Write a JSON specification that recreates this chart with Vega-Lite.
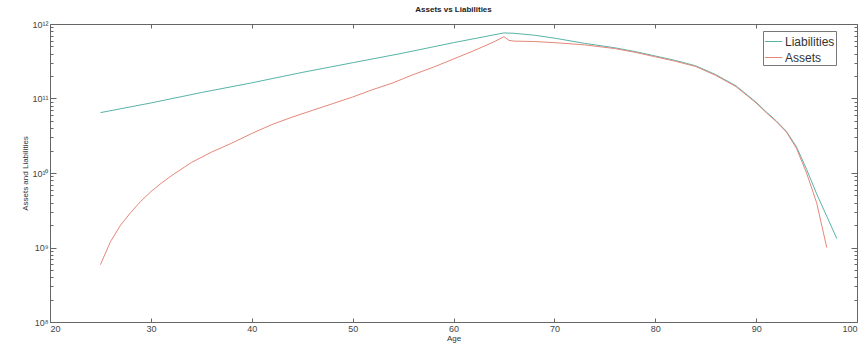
{
  "$schema": "https://vega.github.io/schema/vega-lite/v6.json",
  "width": 807,
  "height": 298,
  "autosize": "none",
  "padding": {"left": 50, "top": 24, "right": 5, "bottom": 25},
  "background": "white",
  "title": {"text": "Assets vs Liabilities", "fontSize": 8, "font": "Liberation Sans", "fontWeight": "bold", "offset": 6, "color": "#222"},
  "config": {
    "view": {"stroke": "#666", "strokeWidth": 1},
    "axis": {"labelFont": "Liberation Sans", "titleFont": "Liberation Sans", "labelFontSize": 9, "titleFontSize": 8, "titleFontWeight": "normal", "labelColor": "#444", "titleColor": "#333", "tickColor": "#666", "domainColor": "#666", "grid": false, "labelOverlap": false}
  },
  "data": {"values": [
    {"series": "Liabilities", "age": 25, "value": 6.46e10},
    {"series": "Liabilities", "age": 30, "value": 8.71e10},
    {"series": "Liabilities", "age": 35, "value": 1.202e11},
    {"series": "Liabilities", "age": 40, "value": 1.622e11},
    {"series": "Liabilities", "age": 45, "value": 2.239e11},
    {"series": "Liabilities", "age": 50, "value": 3.02e11},
    {"series": "Liabilities", "age": 55, "value": 4.07e11},
    {"series": "Liabilities", "age": 60, "value": 5.62e11},
    {"series": "Liabilities", "age": 65, "value": 7.59e11},
    {"series": "Liabilities", "age": 66, "value": 7.5e11},
    {"series": "Liabilities", "age": 68, "value": 7.08e11},
    {"series": "Liabilities", "age": 70, "value": 6.46e11},
    {"series": "Liabilities", "age": 73, "value": 5.5e11},
    {"series": "Liabilities", "age": 76, "value": 4.79e11},
    {"series": "Liabilities", "age": 78, "value": 4.27e11},
    {"series": "Liabilities", "age": 80, "value": 3.72e11},
    {"series": "Liabilities", "age": 82, "value": 3.24e11},
    {"series": "Liabilities", "age": 84, "value": 2.75e11},
    {"series": "Liabilities", "age": 86, "value": 2.09e11},
    {"series": "Liabilities", "age": 88, "value": 1.479e11},
    {"series": "Liabilities", "age": 89, "value": 1.148e11},
    {"series": "Liabilities", "age": 90, "value": 8.91e10},
    {"series": "Liabilities", "age": 91, "value": 6.61e10},
    {"series": "Liabilities", "age": 92, "value": 5.01e10},
    {"series": "Liabilities", "age": 93, "value": 3.63e10},
    {"series": "Liabilities", "age": 94, "value": 2.24e10},
    {"series": "Liabilities", "age": 95, "value": 1.122e10},
    {"series": "Liabilities", "age": 96, "value": 5.25e9},
    {"series": "Liabilities", "age": 97, "value": 2.63e9},
    {"series": "Liabilities", "age": 98, "value": 1.318e9},
    {"series": "Assets", "age": 25, "value": 5.89e8},
    {"series": "Assets", "age": 26, "value": 1.202e9},
    {"series": "Assets", "age": 27, "value": 2.0e9},
    {"series": "Assets", "age": 28, "value": 2.95e9},
    {"series": "Assets", "age": 29, "value": 4.17e9},
    {"series": "Assets", "age": 30, "value": 5.62e9},
    {"series": "Assets", "age": 31, "value": 7.24e9},
    {"series": "Assets", "age": 32, "value": 9.12e9},
    {"series": "Assets", "age": 34, "value": 1.38e10},
    {"series": "Assets", "age": 36, "value": 1.905e10},
    {"series": "Assets", "age": 38, "value": 2.51e10},
    {"series": "Assets", "age": 40, "value": 3.39e10},
    {"series": "Assets", "age": 42, "value": 4.47e10},
    {"series": "Assets", "age": 44, "value": 5.62e10},
    {"series": "Assets", "age": 46, "value": 6.92e10},
    {"series": "Assets", "age": 48, "value": 8.51e10},
    {"series": "Assets", "age": 50, "value": 1.047e11},
    {"series": "Assets", "age": 52, "value": 1.318e11},
    {"series": "Assets", "age": 54, "value": 1.622e11},
    {"series": "Assets", "age": 56, "value": 2.09e11},
    {"series": "Assets", "age": 58, "value": 2.63e11},
    {"series": "Assets", "age": 60, "value": 3.39e11},
    {"series": "Assets", "age": 62, "value": 4.37e11},
    {"series": "Assets", "age": 64, "value": 5.75e11},
    {"series": "Assets", "age": 65, "value": 6.76e11},
    {"series": "Assets", "age": 65.5, "value": 6.03e11},
    {"series": "Assets", "age": 66, "value": 5.89e11},
    {"series": "Assets", "age": 68, "value": 5.82e11},
    {"series": "Assets", "age": 70, "value": 5.62e11},
    {"series": "Assets", "age": 73, "value": 5.25e11},
    {"series": "Assets", "age": 76, "value": 4.68e11},
    {"series": "Assets", "age": 78, "value": 4.17e11},
    {"series": "Assets", "age": 80, "value": 3.63e11},
    {"series": "Assets", "age": 82, "value": 3.16e11},
    {"series": "Assets", "age": 84, "value": 2.69e11},
    {"series": "Assets", "age": 86, "value": 2.04e11},
    {"series": "Assets", "age": 88, "value": 1.445e11},
    {"series": "Assets", "age": 89, "value": 1.122e11},
    {"series": "Assets", "age": 90, "value": 8.71e10},
    {"series": "Assets", "age": 91, "value": 6.46e10},
    {"series": "Assets", "age": 92, "value": 4.9e10},
    {"series": "Assets", "age": 93, "value": 3.55e10},
    {"series": "Assets", "age": 94, "value": 2.14e10},
    {"series": "Assets", "age": 95, "value": 1.0e10},
    {"series": "Assets", "age": 96, "value": 3.98e9},
    {"series": "Assets", "age": 97, "value": 1.0e9}
  ]},
  "layer": [
    {
      "mark": {"type": "line", "strokeWidth": 1, "clip": true},
      "encoding": {
        "x": {"field": "age", "type": "quantitative", "scale": {"domain": [20, 100], "nice": false, "zero": false},
          "axis": {"orient": "bottom", "title": "Age", "values": [20, 30, 40, 50, 60, 70, 80, 90, 100], "tickSize": -4, "labelPadding": 6, "titlePadding": 1, "domain": false}},
        "y": {"field": "value", "type": "quantitative", "scale": {"type": "log", "domain": [1e8, 1e12], "nice": false},
          "axis": {"orient": "left", "title": "Assets and Liabilities", "domain": false,
            "values": [1e8, 2e8, 3e8, 4e8, 5e8, 6e8, 7e8, 8e8, 9e8, 1e9, 2e9, 3e9, 4e9, 5e9, 6e9, 7e9, 8e9, 9e9, 1e10, 2e10, 3e10, 4e10, 5e10, 6e10, 7e10, 8e10, 9e10, 1e11, 2e11, 3e11, 4e11, 5e11, 6e11, 7e11, 8e11, 9e11, 1e12],
            "labelExpr": "datum.value==1e8?'10⁸':datum.value==1e9?'10⁹':datum.value==1e10?'10¹⁰':datum.value==1e11?'10¹¹':datum.value==1e12?'10¹²':''",
            "tickSize": {"condition": {"test": "indexof([1e8,1e9,1e10,1e11,1e12], datum.value) >= 0", "value": -6}, "value": -3},
            "labelPadding": 8, "titlePadding": 2}},
        "color": {"field": "series", "type": "nominal",
          "scale": {"domain": ["Liabilities", "Assets"], "range": ["#58b3a7", "#e5877a"]},
          "legend": {"orient": "none", "legendX": 713, "legendY": 7, "title": null, "symbolType": "stroke", "symbolSize": 300, "symbolStrokeWidth": 1, "labelFont": "Liberation Sans", "labelFontSize": 12, "labelColor": "#333", "strokeColor": "#777", "fillColor": "white", "padding": 1, "rowPadding": -2, "labelOffset": 2}}
      }
    },
    {
      "mark": {"type": "line", "opacity": 0, "clip": true},
      "encoding": {
        "x": {"field": "age", "type": "quantitative", "scale": {"domain": [20, 100], "nice": false, "zero": false},
          "axis": {"orient": "top", "title": null, "labels": false, "values": [20, 30, 40, 50, 60, 70, 80, 90, 100], "tickSize": -4, "domain": false}},
        "y": {"field": "value", "type": "quantitative", "scale": {"type": "log", "domain": [1e8, 1e12], "nice": false},
          "axis": {"orient": "right", "title": null, "labels": false, "domain": false,
            "values": [1e8, 2e8, 3e8, 4e8, 5e8, 6e8, 7e8, 8e8, 9e8, 1e9, 2e9, 3e9, 4e9, 5e9, 6e9, 7e9, 8e9, 9e9, 1e10, 2e10, 3e10, 4e10, 5e10, 6e10, 7e10, 8e10, 9e10, 1e11, 2e11, 3e11, 4e11, 5e11, 6e11, 7e11, 8e11, 9e11, 1e12],
            "tickSize": {"condition": {"test": "indexof([1e8,1e9,1e10,1e11,1e12], datum.value) >= 0", "value": -6}, "value": -3}}},
        "detail": {"field": "series", "type": "nominal"}
      }
    }
  ],
  "resolve": {"axis": {"x": "independent", "y": "independent"}}
}
